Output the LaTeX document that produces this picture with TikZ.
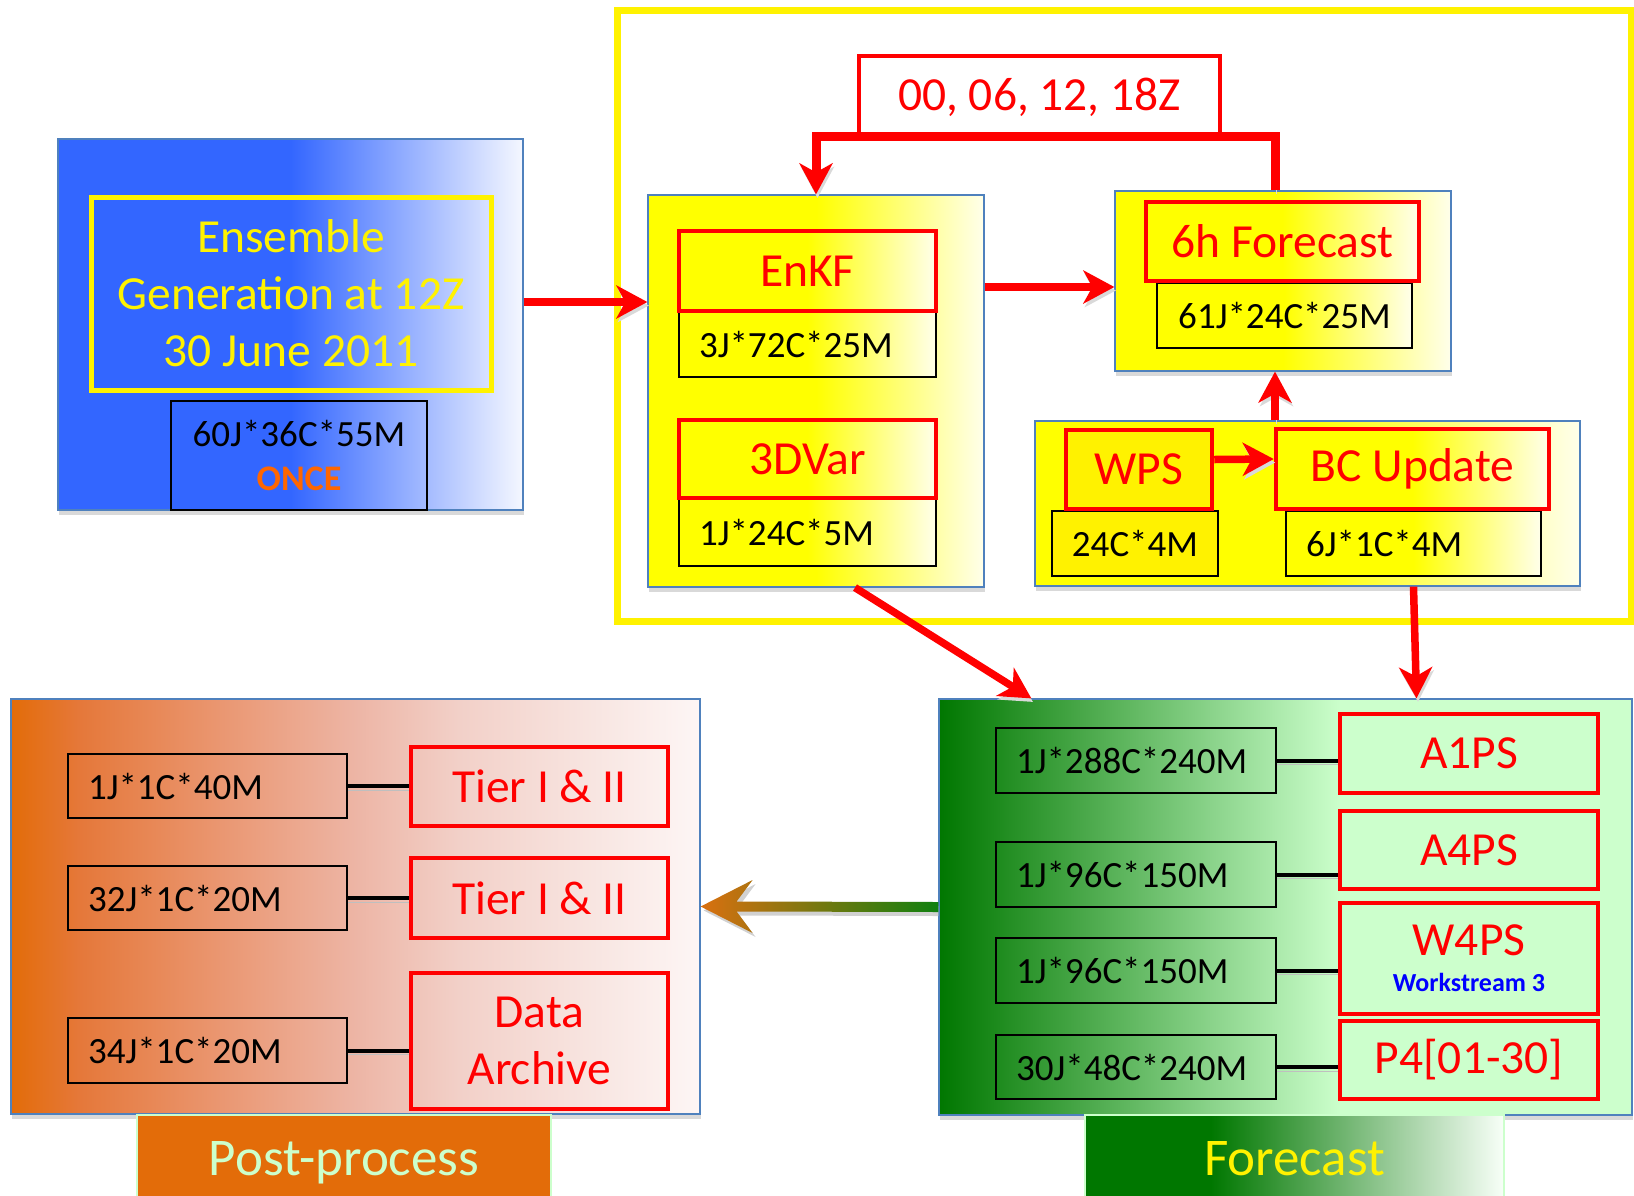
\documentclass[tikz,border=0pt]{standalone}
\usepackage{fontspec}
\setmainfont{Carlito}
\usetikzlibrary{arrows.meta,positioning,calc,shadows}

\definecolor{genblue}{HTML}{3366FF}
\definecolor{jobred}{HTML}{FF0000}
\definecolor{panelline}{HTML}{4F81BD}
\definecolor{fcdark}{HTML}{007700}
\definecolor{fclight}{HTML}{CCFFCC}
\definecolor{pporange}{HTML}{E36C09}
\definecolor{ppa}{HTML}{E5783A}
\definecolor{ppb}{HTML}{EA9670}
\definecolor{ppc}{HTML}{EDB5A5}
\definecolor{ppd}{HTML}{F2D0C8}
\definecolor{ppe}{HTML}{FDF6F5}
\definecolor{onceorange}{HTML}{FF6600}
\definecolor{wsblue}{HTML}{0000FF}
\definecolor{arrorange}{HTML}{DA7010}
\definecolor{arrgreen}{HTML}{0F800F}

\pgfdeclarehorizontalshading{fcfade}{100bp}{color(0bp)=(fcdark); color(25bp)=(fcdark); color(54bp)=(fclight); color(100bp)=(fclight)}
\pgfdeclarehorizontalshading{tabfade}{100bp}{color(0bp)=(fcdark); color(40bp)=(fcdark); color(75bp)=(fclight!15!white); color(100bp)=(fclight!15!white)}
\pgfdeclarehorizontalshading{ppfade}{100bp}{color(0bp)=(pporange); color(25bp)=(pporange); color(30bp)=(ppa); color(40bp)=(ppb); color(50bp)=(ppc); color(57.5bp)=(ppd); color(75bp)=(ppe); color(100bp)=(ppe)}

\newcommand\bigtxt{\fontsize{47.5}{57}\selectfont}
\newcommand\memtxt{\fontsize{37}{44}\selectfont}
\newcommand\tabtxt{\fontsize{53}{60}\selectfont}

\begin{document}
\begin{tikzpicture}[
  x=1pt, y=-1pt,
  panel/.style={
    draw=panelline, line width=1.2pt, inner sep=0pt,
    drop shadow={shadow xshift=1pt, shadow yshift=-5pt, fill=black!15, opacity=1}
  },
  yfade/.style={left color=yellow, right color=yellow!8, middle color=yellow},
  job/.style={
    draw=jobred, line width=4.5pt, text=jobred,
    font=\bigtxt, align=center, inner sep=0pt
  },
  memo/.style={
    draw=black, line width=1.8pt, font=\memtxt,
    inner xsep=20pt, inner ysep=0pt, align=left
  },
  flow/.style={
    draw=jobred, line width=7.5pt,
    -{Stealth[length=31pt, width=33pt, inset=9pt]},
    preaction={draw=black!15, transform canvas={shift={(1.5pt,-3.5pt)}}}
  },
  link/.style={
    draw=black, line width=4pt,
    preaction={draw=black!25, transform canvas={yshift=-4pt}}
  }
]
\useasboundingbox (0,0) rectangle (1634,1195);

% ==================== ENSEMBLE GENERATION ====================
\node (genpanel) [panel, left color=genblue, right color=genblue!5, middle color=genblue,
  minimum width=465pt, minimum height=371pt] at (290.5,324.5) {};
\node (gentext) [draw=yellow, line width=5pt, minimum width=400pt, minimum height=193pt,
  text=yellow, font=\bigtxt, align=center] at (291,293.5)
  {Ensemble\\Generation at 12Z\\30 June 2011};
\node (genmem) [memo, align=center, minimum width=256pt, minimum height=109pt] at (299,455.5)
  {60J*36C*55M\\{\fontsize{36}{44}\selectfont\bfseries\color{onceorange}ONCE}};

% ==================== ASSIMILATION CYCLE ====================
\node (daframe) [draw=yellow, line width=7pt, minimum width=1014pt, minimum height=611pt] at (1124,315.5) {};
\node (times) [job, fill=white, minimum width=361pt, minimum height=83pt] at (1039.5,97.5) {00, 06, 12, 18Z};

% analysis panel
\node (dapanel) [panel, yfade, minimum width=336pt, minimum height=392pt] at (816,391) {};
\node (enkfmem) [memo, yfade, text width=217pt, minimum height=66pt] at (807.5,344) {3J*72C*25M};
\node (enkf) [job, yfade, minimum width=257pt, minimum height=80pt] at (807.5,271) {EnKF};
\node (varmem) [memo, yfade, text width=217pt, minimum height=68pt] at (807.5,532) {1J*24C*5M};
\node (var) [job, yfade, minimum width=257pt, minimum height=78pt] at (807.5,459) {3DVar};

% short forecast panel
\node (fcpanel) [panel, yfade, minimum width=336pt, minimum height=180pt] at (1283,281) {};
\node (sixhmem) [memo, yfade, align=center, minimum width=255pt, minimum height=65pt] at (1284.5,315.5) {61J*24C*25M};
\node (sixh) [job, yfade, minimum width=273pt, minimum height=79pt] at (1282.5,241.5) {6h Forecast};

% boundary panel
\node (bcpanel) [panel, yfade, minimum width=545pt, minimum height=165pt] at (1307.5,503.5) {};
\node (wpsmem) [memo, fill=yellow, align=center, minimum width=166pt, minimum height=65pt] at (1135,543.5) {24C*4M};
\node (wps) [job, fill=yellow, minimum width=146pt, minimum height=79pt] at (1139,469.5) {WPS};
\node (bcmem) [memo, yfade, text width=215pt, minimum height=65pt] at (1413.5,543.5) {6J*1C*4M};
\node (bc) [job, yfade, minimum width=273pt, minimum height=80pt] at (1412.5,469) {BC Update};

% ==================== FORECAST ====================
\node (fcst) [panel, shade, shading=fcfade, minimum width=693pt, minimum height=416pt] at (1285.5,907) {};
\node (m1) [memo, text width=240pt, minimum height=65pt] at (1136,760.5) {1J*288C*240M};
\node (m2) [memo, text width=240pt, minimum height=65pt] at (1136,874.5) {1J*96C*150M};
\node (m3) [memo, text width=240pt, minimum height=65pt] at (1136,970.5) {1J*96C*150M};
\node (m4) [memo, text width=240pt, minimum height=64pt] at (1136,1067) {30J*48C*240M};
\node (a1ps) [job, minimum width=258pt, minimum height=79pt] at (1469,753.5) {A1PS};
\node (a4ps) [job, minimum width=258pt, minimum height=78pt] at (1469,850) {A4PS};
\node (w4ps) [job, minimum width=258pt, minimum height=111pt] at (1469,958.5)
  {W4PS\\[-21pt]{\fontsize{26}{30}\selectfont\bfseries\color{wsblue}Workstream 3}};
\node (p4) [job, minimum width=258pt, minimum height=78pt] at (1469,1060) {P4[01-30]};
\node (fcsttab) [shade, shading=tabfade, draw=fclight, line width=1.5pt, minimum width=419pt,
  minimum height=86pt, text depth=0pt, text=yellow, font=\tabtxt] at (1294.5,1158) {Forecast};

% ==================== POST-PROCESS ====================
\node (post) [panel, shade, shading=ppfade, minimum width=689pt, minimum height=415pt] at (355.5,906.5) {};
\node (pm1) [memo, text width=239pt, minimum height=64pt] at (207.5,786) {1J*1C*40M};
\node (pm2) [memo, text width=239pt, minimum height=64pt] at (207.5,898) {32J*1C*20M};
\node (pm3) [memo, text width=239pt, minimum height=65pt] at (207.5,1050.5) {34J*1C*20M};
\node (t1) [job, minimum width=257pt, minimum height=79pt] at (539.5,786.5) {Tier I \& II};
\node (t2) [job, minimum width=257pt, minimum height=80pt] at (539.5,898) {Tier I \& II};
\node (t3) [job, minimum width=257pt, minimum height=136pt] at (539.5,1041) {Data\\Archive};
\node (posttab) [fill=pporange, draw=fclight, line width=1.5pt, minimum width=414pt,
  minimum height=86pt, text depth=0pt, text=fclight, font=\tabtxt] at (344,1158) {Post-process};

% ==================== CONNECTORS ====================
\coordinate (genout) at ($(genpanel.east)+(0,-22.5)$);
\coordinate (daout) at ($(fcpanel.west)+(0,6)$);
\coordinate (loop) at ($(fcpanel.north)+(-8,0)$);

\draw[flow] (genout) -- (genout -| dapanel.west);
\draw[flow] (daout -| dapanel.east) -- (daout);
\draw[flow, line width=9pt] (loop) |- ($(times.south)+(0,-5)$) -| (dapanel.north);
\draw[flow] (bcpanel.north -| loop) -- (fcpanel.south -| loop);
\draw[flow] ($(wps.east)+(0,-10)$) -- ($(bc.west)+(0,-10)$);
\draw[flow] ($(dapanel.south)+(39,0)$) -- ($(fcst.north west)+(93,0)$);
\draw[flow] ($(bcpanel.south)+(106,0)$) -- ($(fcst.north)+(131,0)$);

% forecast output to post-processing
\fill[black!18] ($(post.east)+(3,4)$) -- ($(post.east)+(55,-22.5)$) -- ($(post.east)+(39,-1)$)
  -- ($(fcst.west)+(0,-1)$) -- ($(fcst.west)+(0,9)$) -- ($(post.east)+(39,9)$)
  -- ($(post.east)+(55,30.5)$) -- cycle;
\shade[left color=arrorange, right color=arrgreen] (post.east) -- ($(post.east)+(52,-26.5)$)
  -- ($(post.east)+(36,-5)$) -- ($(fcst.west)+(0,-5)$) -- ($(fcst.west)+(0,5)$)
  -- ($(post.east)+(36,5)$) -- ($(post.east)+(52,26.5)$) -- cycle;

% memory to product
\foreach \mem/\job in {m1/a1ps, m2/a4ps, m3/w4ps, m4/p4, pm1/t1, pm2/t2, pm3/t3}
  \draw[link] (\mem.east) -- (\mem.east -| \job.west);

\end{tikzpicture}
\end{document}
